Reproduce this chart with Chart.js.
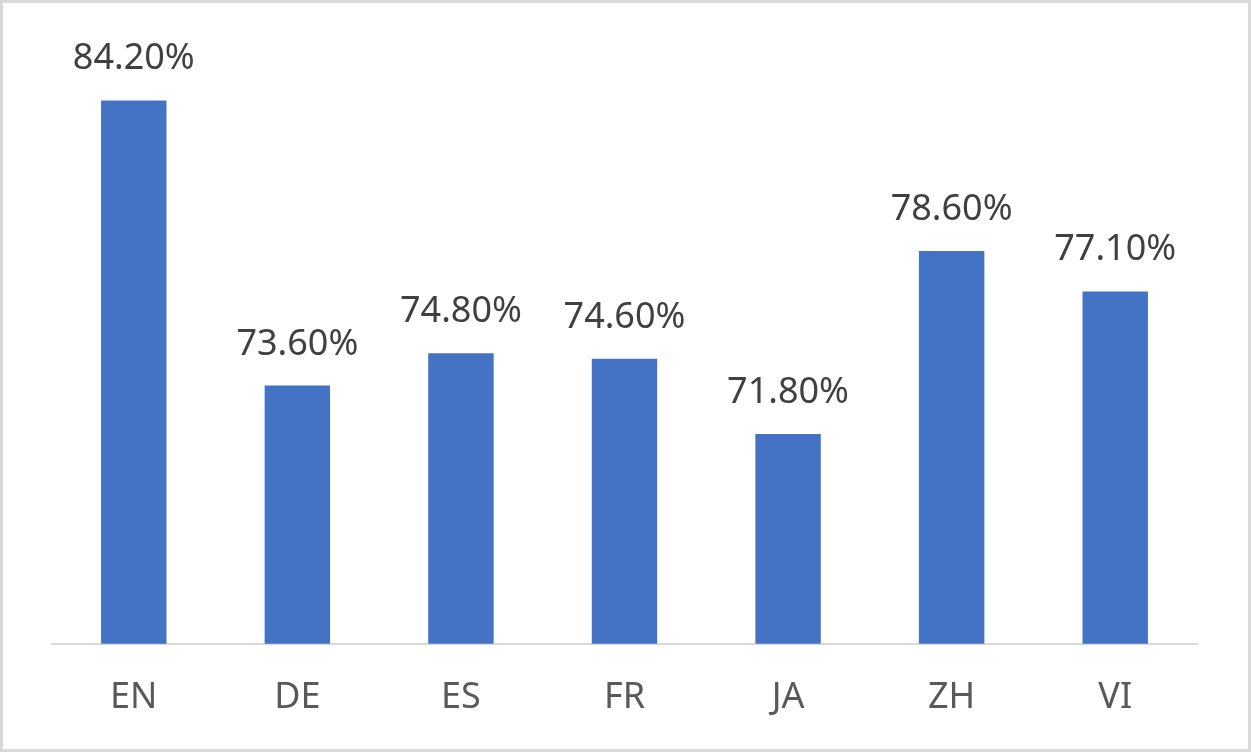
<!DOCTYPE html>
<html>
<head>
<meta charset="utf-8">
<script src="https://cdn.jsdelivr.net/npm/chart.js@4/dist/chart.umd.min.js"></script>
<style>
  html, body { margin: 0; padding: 0; background: #fff; }
  #wrap { width: 1251px; height: 752px; position: relative; }
</style>
</head>
<body>
<div id="wrap"><canvas id="chart" width="1251" height="752"></canvas></div>
<script>
const languages = ['EN', 'DE', 'ES', 'FR', 'JA', 'ZH', 'VI']
const scores = [84.2, 73.6, 74.8, 74.6, 71.8, 78.6, 77.1]

const FONT = '"Noto Sans", "Open Sans", sans-serif'

// white background + light grey frame like the Excel chart area
const frame = {
    id: 'frame',
    beforeDraw(chart) {
        const c = chart.ctx
        c.save()
        c.fillStyle = '#ffffff'
        c.fillRect(0, 0, chart.width, chart.height)
        c.strokeStyle = '#d9d9d9'
        c.lineWidth = 3
        c.strokeRect(1.5, 1.5, chart.width - 3, chart.height - 3)
        c.restore()
    }
}

// value labels above each bar
const valueLabels = {
    id: 'valueLabels',
    afterDatasetsDraw(chart) {
        const c = chart.ctx
        const meta = chart.getDatasetMeta(0)
        c.save()
        c.font = '36px ' + FONT
        c.fillStyle = '#404040'
        c.textAlign = 'center'
        c.textBaseline = 'alphabetic'
        meta.data.forEach((bar, i) => {
            c.fillText(scores[i].toFixed(2) + '%', bar.x, bar.y - 31)
        })
        c.restore()
    }
}

const ctx = document.getElementById('chart')
new Chart(ctx, {
    type: 'bar',
    data: {
        labels: languages,
        datasets: [{
            data: scores,
            backgroundColor: '#4472c4',
            borderWidth: 0,
            categoryPercentage: 1,
            barPercentage: 0.4
        }]
    },
    options: {
        responsive: false,
        animation: false,
        layout: { padding: { top: 52, left: 52, right: 54, bottom: 1 } },
        plugins: { legend: { display: false }, tooltip: { enabled: false } },
        scales: {
            x: {
                grid: { display: false, drawTicks: false },
                border: { display: true, color: '#d9d9d9', width: 2 },
                ticks: { color: '#595959', font: { family: FONT, size: 36 }, padding: 32 }
            },
            y: {
                display: false,
                min: 64,
                max: 86
            }
        }
    },
    plugins: [frame, valueLabels]
});
</script>
</body>
</html>
